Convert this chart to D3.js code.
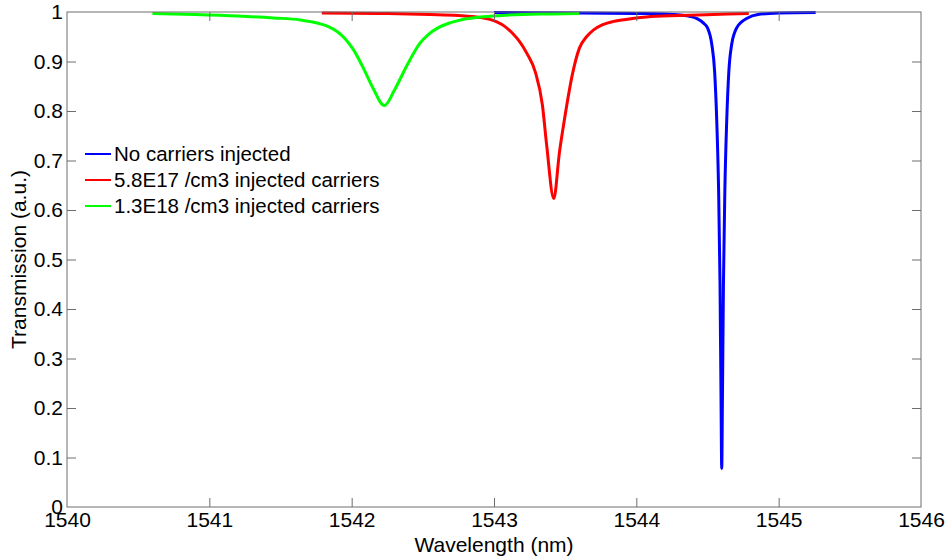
<!DOCTYPE html>
<html>
<head>
<meta charset="utf-8">
<script src="https://cdn.jsdelivr.net/npm/d3@7"></script>
<style>
  html, body { margin: 0; padding: 0; background: #fff; }
  svg { display: block; font-family: "Liberation Sans", Arial, sans-serif; }
</style>
</head>
<body>
<svg id="chart" width="950" height="559"></svg>
<script>
// Transmission spectra of the ring resonator for three carrier densities
const seriesNames = [
  "No carriers injected",
  "5.8E17 /cm3 injected carriers",
  "1.3E18 /cm3 injected carriers"
];
const seriesColors = ["#0000ff", "#ff0000", "#00ff00"];

// No carriers injected
const blueWavelength = [1543.00, 1543.60, 1544.00, 1544.20, 1544.31, 1544.38, 1544.43, 1544.47,
  1544.50, 1544.53, 1544.55, 1544.565, 1544.578, 1544.588, 1544.595, 1544.600, 1544.605,
  1544.612, 1544.622, 1544.635, 1544.65, 1544.67, 1544.69, 1544.705, 1544.74, 1544.775,
  1544.855, 1545.00, 1545.26];
const blueTransmission = [0.999, 0.998, 0.997, 0.996, 0.994, 0.991, 0.986, 0.978,
  0.968, 0.935, 0.880, 0.780, 0.640, 0.450, 0.220, 0.078, 0.220,
  0.450, 0.640, 0.780, 0.880, 0.935, 0.958, 0.968, 0.980, 0.987,
  0.995, 0.998, 0.999];

// 5.8E17 /cm3 injected carriers
const redWavelength = [1541.79, 1542.20, 1542.55, 1542.75, 1542.90, 1542.97, 1543.02, 1543.08,
  1543.13, 1543.18, 1543.23, 1543.29, 1543.34, 1543.37, 1543.42, 1543.46, 1543.50, 1543.55,
  1543.60, 1543.65, 1543.70, 1543.76, 1543.84, 1543.95, 1544.07, 1544.30, 1544.54, 1544.79];
const redTransmission = [0.998, 0.997, 0.995, 0.993, 0.989, 0.985, 0.980, 0.970,
  0.957, 0.940, 0.917, 0.879, 0.812, 0.731, 0.623, 0.717, 0.792, 0.873,
  0.927, 0.950, 0.964, 0.974, 0.981, 0.986, 0.990, 0.993, 0.995, 0.997];

// 1.3E18 /cm3 injected carriers
const greenWavelength = [1540.60, 1540.90, 1541.20, 1541.45, 1541.64, 1541.72, 1541.78, 1541.84,
  1541.90, 1541.96, 1542.01, 1542.08, 1542.15, 1542.23, 1542.30, 1542.39, 1542.48, 1542.54,
  1542.60, 1542.69, 1542.78, 1542.88, 1543.00, 1543.20, 1543.40, 1543.60];
const greenTransmission = [0.997, 0.995, 0.992, 0.988, 0.984, 0.980, 0.976, 0.970,
  0.960, 0.944, 0.925, 0.888, 0.846, 0.811, 0.842, 0.893, 0.937, 0.955,
  0.967, 0.978, 0.985, 0.989, 0.992, 0.995, 0.996, 0.997];

const xTicks = [1540, 1541, 1542, 1543, 1544, 1545, 1546];
const yTicks = [0, 0.1, 0.2, 0.3, 0.4, 0.5, 0.6, 0.7, 0.8, 0.9, 1];
const xLabel = "Wavelength (nm)";
const yLabel = "Transmission (a.u.)";

const series = [
  { name: seriesNames[0], color: seriesColors[0], xs: blueWavelength, ys: blueTransmission },
  { name: seriesNames[1], color: seriesColors[1], xs: redWavelength, ys: redTransmission },
  { name: seriesNames[2], color: seriesColors[2], xs: greenWavelength, ys: greenTransmission }
];

const svg = d3.select("#chart");
const margin = { left: 67, top: 12, right: 29, bottom: 52 };
const W = 950, H = 559;
const plotW = W - margin.left - margin.right;
const plotH = H - margin.top - margin.bottom;

const x = d3.scaleLinear().domain([1540, 1546]).range([0, plotW]);
const y = d3.scaleLinear().domain([0, 1]).range([plotH, 0]);

const g = svg.append("g").attr("transform", `translate(${margin.left},${margin.top})`);
const axisColor = "#6e6e6e";
const tickLen = 9;
const fontSize = 21;

g.append("defs").append("clipPath").attr("id", "plotClip")
  .append("rect").attr("x", -2).attr("y", -2).attr("width", plotW + 4).attr("height", plotH + 4);

// Curves
const line = d3.line()
  .x(d => x(d[0]))
  .y(d => y(d[1]))
  .curve(d3.curveMonotoneX);

g.append("g").attr("clip-path", "url(#plotClip)")
  .selectAll("path.curve")
  .data(series)
  .join("path")
  .attr("class", "curve")
  .attr("fill", "none")
  .attr("stroke", d => d.color)
  .attr("stroke-width", 3)
  .attr("stroke-linejoin", "round")
  .attr("d", d => line(d.xs.map((v, i) => [v, d.ys[i]])));

// Axes with inward ticks on all four sides
function styleAxis(sel) {
  sel.select(".domain").remove();
  sel.selectAll(".tick line").attr("stroke", axisColor).attr("stroke-width", 1);
  sel.selectAll(".tick text").attr("fill", "#000").attr("font-size", fontSize)
     .attr("font-family", "'Liberation Sans', Arial, sans-serif");
}

const xBottom = g.append("g").attr("transform", `translate(0,${plotH})`)
  .call(d3.axisBottom(x).tickValues(xTicks).tickFormat(d3.format("d"))
    .tickSizeInner(-tickLen).tickSizeOuter(0).tickPadding(5));
styleAxis(xBottom);
xBottom.selectAll(".tick").filter(d => d === 1540 || d === 1546).select("line").remove();

const xTop = g.append("g")
  .call(d3.axisTop(x).tickValues(xTicks).tickFormat("").tickSizeInner(-tickLen).tickSizeOuter(0));
styleAxis(xTop);
xTop.selectAll(".tick").filter(d => d === 1540 || d === 1546).select("line").remove();

const yLeft = g.append("g")
  .call(d3.axisLeft(y).tickValues(yTicks).tickFormat(d => d3.format("")(+d.toFixed(1)))
    .tickSizeInner(-tickLen).tickSizeOuter(0).tickPadding(4));
styleAxis(yLeft);
yLeft.selectAll(".tick").filter(d => d === 0 || d === 1).select("line").remove();

const yRight = g.append("g").attr("transform", `translate(${plotW},0)`)
  .call(d3.axisRight(y).tickValues(yTicks).tickFormat("").tickSizeInner(-tickLen).tickSizeOuter(0));
styleAxis(yRight);
yRight.selectAll(".tick").filter(d => d === 0 || d === 1).select("line").remove();

// Plot box
g.append("rect")
  .attr("x", 0).attr("y", 0).attr("width", plotW).attr("height", plotH)
  .attr("fill", "none").attr("stroke", axisColor).attr("stroke-width", 1);

// Axis titles
svg.append("text")
  .attr("x", margin.left + plotW / 2).attr("y", 552)
  .attr("text-anchor", "middle").attr("font-size", fontSize).attr("fill", "#000")
  .text(xLabel);

svg.append("text")
  .attr("transform", `translate(26,${margin.top + plotH / 2}) rotate(-90)`)
  .attr("text-anchor", "middle").attr("font-size", fontSize).attr("fill", "#000")
  .text(yLabel);

// Legend
const legend = g.append("g").attr("transform", "translate(18,142)");
const rowH = 26;
const items = legend.selectAll("g").data(series).join("g")
  .attr("transform", (d, i) => `translate(0,${i * rowH})`);
items.append("line")
  .attr("x1", 0).attr("x2", 26).attr("y1", 0).attr("y2", 0)
  .attr("stroke", d => d.color).attr("stroke-width", 2);
items.append("text")
  .attr("x", 29).attr("y", 0).attr("dy", "0.35em")
  .attr("font-size", 20.5).attr("fill", "#000")
  .text(d => d.name);
</script>
</body>
</html>
